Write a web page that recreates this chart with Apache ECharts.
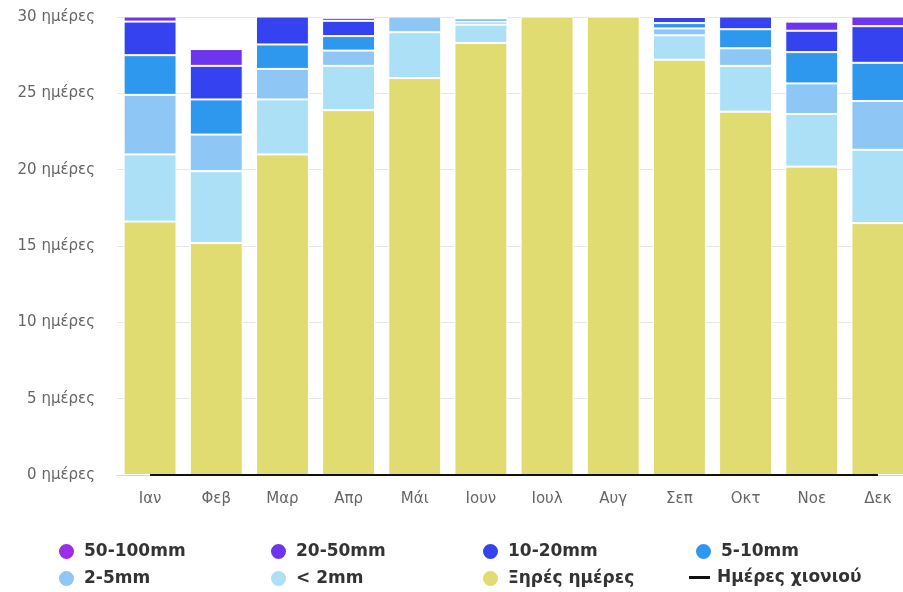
<!DOCTYPE html>
<html>
<head>
<meta charset="utf-8">
<script src="https://cdn.jsdelivr.net/npm/echarts@6/dist/echarts.min.js"></script>
<style>
  html, body { margin: 0; padding: 0; background: #fff; overflow: hidden; }
  #chart { width: 911px; height: 592px; }
</style>
</head>
<body>
<div id="chart"></div>
<script>
// Monthly precipitation-day breakdown (days per month)
const months = ['Ιαν', 'Φεβ', 'Μαρ', 'Απρ', 'Μάι', 'Ιουν', 'Ιουλ', 'Αυγ', 'Σεπ', 'Οκτ', 'Νοε', 'Δεκ'];

const dryDays   = [16.6, 15.2, 21.0, 23.9, 26.0, 28.3, 30.1, 30.3, 27.2, 23.8, 20.2, 16.5];
const under2mm  = [4.4, 4.7, 3.6, 2.9, 3.0, 1.2, 0.7, 0.5, 1.6, 3.0, 3.45, 4.8];
const mm2to5    = [3.9, 2.4, 2.0, 1.0, 1.3, 0.2, 0.2, 0.2, 0.45, 1.15, 2.0, 3.2];
const mm5to10   = [2.6, 2.3, 1.6, 0.95, 0.5, 0.2, 0, 0, 0.35, 1.25, 2.05, 2.5];
const mm10to20  = [2.2, 2.2, 2.0, 1.0, 0.2, 0.1, 0, 0, 0.4, 1.5, 1.4, 2.4];
const mm20to50  = [1.0, 1.1, 0.6, 0.2, 0, 0, 0, 0, 0, 0.3, 0.6, 1.2];
const mm50to100 = [0.3, 0, 0.2, 0.05, 0, 0, 0, 0, 0, 0, 0, 0.4];
const snowDays  = [0, 0, 0, 0, 0, 0, 0, 0, 0, 0, 0, 0];

const yTicks = [0, 5, 10, 15, 20, 25, 30];

const barSeries = [
  { name: 'Ξηρές ημέρες', data: dryDays,   color: '#e0dc72' },
  { name: '< 2mm',        data: under2mm,  color: '#ace0f6' },
  { name: '2-5mm',        data: mm2to5,    color: '#8ec7f5' },
  { name: '5-10mm',       data: mm5to10,   color: '#2e98ee' },
  { name: '10-20mm',      data: mm10to20,  color: '#3442f0' },
  { name: '20-50mm',      data: mm20to50,  color: '#6d35ee' },
  { name: '50-100mm',     data: mm50to100, color: '#9a2ee6' }
];

const font = '"DejaVu Sans", Verdana, sans-serif';

const series = barSeries.map(s => ({
  name: s.name,
  type: 'bar',
  stack: 'days',
  barWidth: '80%',
  clip: true,
  data: s.data,
  itemStyle: { color: s.color, borderColor: '#ffffff', borderWidth: 1 },
  emphasis: { disabled: true }
}));

series.push({
  name: 'Ημέρες χιονιού',
  type: 'line',
  data: snowDays,
  symbol: 'none',
  z: 10,
  lineStyle: { color: '#111111', width: 2 },
  itemStyle: { color: '#111111' }
});

// One legend per entry so the entries sit in a fixed 4-column grid
const legendLayout = [
  { name: '50-100mm',       left: 52,  top: 537 },
  { name: '20-50mm',        left: 264, top: 537 },
  { name: '10-20mm',        left: 476, top: 537 },
  { name: '5-10mm',         left: 689, top: 537 },
  { name: '2-5mm',          left: 52,  top: 564 },
  { name: '< 2mm',          left: 264, top: 564 },
  { name: 'Ξηρές ημέρες',   left: 476, top: 564 },
  { name: 'Ημέρες χιονιού', left: 684, top: 564 }
];

const legends = legendLayout.map(l => {
  const isLine = l.name === 'Ημέρες χιονιού';
  return {
    data: [{ name: l.name, icon: isLine ? 'rect' : 'circle' }],
    left: l.left,
    top: l.top,
    itemWidth: isLine ? 21 : 17,
    itemHeight: isLine ? 3 : 17,
    itemGap: 0,
    selectedMode: false,
    textStyle: {
      fontFamily: font, fontSize: 17, fontWeight: 'bold', color: '#333333',
      padding: [0, 0, 0, isLine ? 2 : 4]
    }
  };
});

const chart = echarts.init(document.getElementById('chart'), null, { renderer: 'canvas' });
chart.setOption({
  animation: false,
  backgroundColor: '#ffffff',
  grid: { left: 117, top: 17, right: 0, height: 458, containLabel: false },
  legend: legends,
  xAxis: {
    type: 'category',
    data: months,
    axisTick: { show: false },
    axisLine: { lineStyle: { color: '#ccd6eb', width: 1 } },
    axisLabel: { color: '#666666', fontFamily: font, fontSize: 15, margin: 17 }
  },
  yAxis: {
    type: 'value',
    min: yTicks[0],
    max: yTicks[yTicks.length - 1],
    interval: 5,
    axisLine: { show: false },
    axisTick: { show: false },
    splitLine: { lineStyle: { color: '#e6e6e6', width: 1 } },
    axisLabel: {
      color: '#666666',
      fontFamily: font,
      fontSize: 15,
      margin: 22,
      formatter: v => v + ' ημέρες'
    }
  },
  series: series
});
</script>
</body>
</html>
